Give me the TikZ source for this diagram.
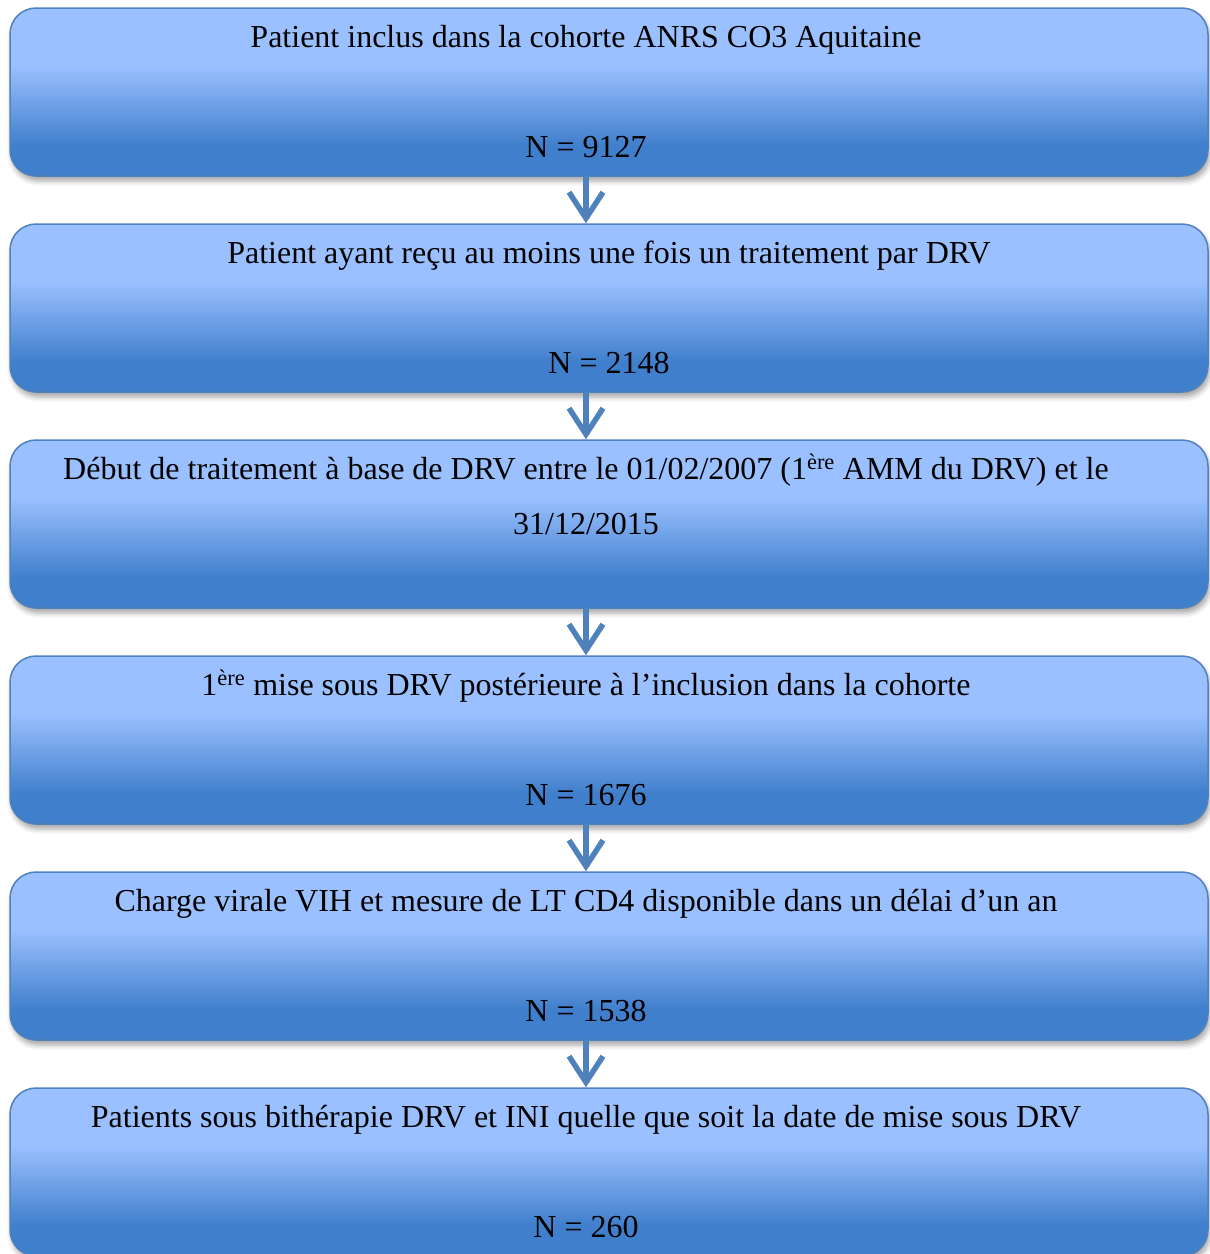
\documentclass[tikz,border=0pt]{standalone}
\usepackage{fontspec}
\setmainfont{Liberation Serif}
\usetikzlibrary{arrows.meta,shadows.blur}
\definecolor{lightb}{RGB}{154,192,255}
\definecolor{darkb}{RGB}{64,127,204}
\definecolor{edgeb}{RGB}{79,129,189}
\pgfdeclareverticalshading{boxshade}{100bp}{color(0bp)=(darkb); color(34bp)=(darkb); color(58bp)=(lightb); color(100bp)=(lightb)}
\begin{document}
\begin{tikzpicture}[x=1pt,y=-1pt,
  box/.style={draw=edgeb, line width=1.5pt, rounded corners=26pt, shading=boxshade,
    minimum width=1198pt, minimum height=168pt, inner sep=0pt,
    blur shadow={shadow xshift=2pt, shadow yshift=-5pt, shadow blur radius=5pt, shadow opacity=35}},
  lbl/.style={anchor=base, inner sep=0pt, font=\fontsize{32}{40}\selectfont},
  arr/.style={draw=edgeb, line width=5.5pt, -{Straight Barb[length=26pt,width=34pt]}}]
\useasboundingbox (0,0) rectangle (1210,1254);
\node[box] (b1) at (609,92) {};
\node[box] (b2) at (609,308) {};
\node[box] (b3) at (609,524) {};
\node[box] (b4) at (609,740) {};
\node[box] (b5) at (609,956) {};
\node[box] (b6) at (609,1172) {};
\node[lbl] (t1) at (586,47) {Patient inclus dans la cohorte ANRS CO3 Aquitaine};
\node[lbl] (n1) at (586,157) {N = 9127};
\node[lbl] (t2) at (609,263) {Patient ayant reçu au moins une fois un traitement par DRV};
\node[lbl] (n2) at (609,373) {N = 2148};
\node[lbl] (t3) at (586,479) {Début de traitement à base de DRV entre le 01/02/2007 (1\textsuperscript{ère} AMM du DRV) et le};
\node[lbl] (t3b) at (586,534) {31/12/2015};
\node[lbl] (t4) at (586,695) {1\textsuperscript{ère} mise sous DRV postérieure à l’inclusion dans la cohorte};
\node[lbl] (n4) at (586,805) {N = 1676};
\node[lbl] (t5) at (586,911) {Charge virale VIH et mesure de LT CD4 disponible dans un délai d’un an};
\node[lbl] (n5) at (586,1021) {N = 1538};
\node[lbl] (t6) at (586,1127) {Patients sous bithérapie DRV et INI quelle que soit la date de mise sous DRV};
\node[lbl] (n6) at (586,1237) {N = 260};
\foreach \a/\b in {b1/b2,b2/b3,b3/b4,b4/b5,b5/b6}
  \draw[arr] ([xshift=-23pt]\a.south) -- ([xshift=-23pt]\b.north);
\end{tikzpicture}
\end{document}
